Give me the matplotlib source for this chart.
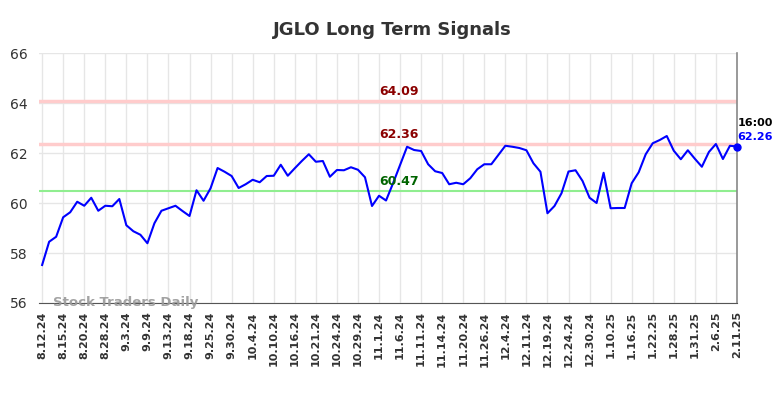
import matplotlib
matplotlib.use("Agg")
import matplotlib.pyplot as plt
from matplotlib.transforms import blended_transform_factory

title = "JGLO Long Term Signals"
tick_labels = ["8.12.24", "8.15.24", "8.20.24", "8.28.24", "9.3.24", "9.9.24", "9.13.24",
               "9.18.24", "9.25.24", "9.30.24", "10.4.24", "10.10.24", "10.16.24", "10.21.24",
               "10.24.24", "10.29.24", "11.1.24", "11.6.24", "11.11.24", "11.14.24", "11.20.24",
               "11.26.24", "12.4.24", "12.11.24", "12.19.24", "12.24.24", "12.30.24", "1.10.25",
               "1.16.25", "1.22.25", "1.28.25", "1.31.25", "2.6.25", "2.11.25"]
prices = [57.52, 58.45, 58.65, 59.43, 59.63, 60.05, 59.89, 60.21, 59.69, 59.89,
          59.87, 60.16, 59.11, 58.87, 58.73, 58.39, 59.19, 59.69, 59.79, 59.89,
          59.68, 59.48, 60.51, 60.09, 60.59, 61.40, 61.25, 61.08, 60.60, 60.75,
          60.93, 60.83, 61.08, 61.09, 61.53, 61.09, 61.39, 61.68, 61.95, 61.65,
          61.68, 61.05, 61.32, 61.31, 61.43, 61.33, 61.03, 59.88, 60.29, 60.10,
          60.79, 61.52, 62.25, 62.12, 62.08, 61.55, 61.27, 61.20, 60.75, 60.81,
          60.75, 60.99, 61.35, 61.55, 61.55, 61.92, 62.29, 62.25, 62.20, 62.11,
          61.59, 61.25, 59.59, 59.88, 60.39, 61.26, 61.31, 60.88, 60.21, 60.00,
          61.21, 59.79, 59.80, 59.80, 60.79, 61.23, 61.95, 62.39, 62.52, 62.68,
          62.09, 61.75, 62.11, 61.77, 61.45, 62.04, 62.36, 61.76, 62.29, 62.26]
resistance_levels = [64.09, 62.36]
support_levels = [60.47]
last_time = "16:00"
watermark = "Stock Traders Daily"

fig = plt.figure(figsize=(7.84, 3.98), dpi=100)
ax = fig.add_axes([0.0497, 0.2387, 0.8903, 0.6281])
bt = blended_transform_factory(ax.transAxes, ax.transData)

x = list(range(len(prices)))
ax.plot(x, prices, color="#0000ff", lw=1.5, zorder=5)
ax.plot(x[-1], prices[-1], "o", color="#0000ff", ms=5, zorder=6, clip_on=False)

for lv in resistance_levels:
    ax.axhline(lv, color="#ffcccc", lw=2.5, zorder=2)
    ax.text(0.516, lv + 0.12, f"{lv:.2f}", color="#8b0000", transform=bt,
            fontweight="bold", fontsize=9, ha="center", va="bottom", zorder=7)
for lv in support_levels:
    ax.axhline(lv, color="#90ee90", lw=1.5, zorder=2)
    ax.text(0.516, lv + 0.12, f"{lv:.2f}", color="#006400", transform=bt,
            fontweight="bold", fontsize=9, ha="center", va="bottom", zorder=7)

ax.set_xlim(-0.45, len(prices) - 1)
ax.set_ylim(56, 66)
ax.set_yticks([56, 58, 60, 62, 64, 66])
tick_pos = list(range(0, len(prices), 3))
ax.set_xticks(tick_pos)
ax.set_xticklabels(tick_labels, rotation=90, fontsize=8, fontweight="bold", color="#333333")
ax.tick_params(axis="y", labelsize=10, colors="#333333", length=0, pad=21)
ax.tick_params(axis="x", length=0, pad=6)
for t in ax.get_yticklabels():
    t.set_ha("left")
ax.grid(True, color="#e6e6e6", lw=1, zorder=0)
ax.set_axisbelow(True)

for s in ["top", "left"]:
    ax.spines[s].set_visible(False)
ax.spines["bottom"].set_color("#555555")
ax.spines["right"].set_color("#888888")
ax.spines["right"].set_linewidth(1.2)

ax.text(len(prices) - 1 + 0.1, prices[-1] + 0.93, last_time, color="black",
        fontweight="bold", fontsize=8, ha="left", va="center")
ax.text(len(prices) - 1 + 0.1, prices[-1] + 0.38, f"{prices[-1]:.2f}", color="#0000ff",
        fontweight="bold", fontsize=8, ha="left", va="center")

ax.text(1.6, 56.0, watermark, color="#999999", fontweight="bold", fontsize=9.5,
        ha="left", va="center", alpha=0.9, zorder=8)

fig.suptitle(title, fontsize=13, fontweight="bold", color="#333333", y=0.948)

fig.savefig("out.png", dpi=100)
